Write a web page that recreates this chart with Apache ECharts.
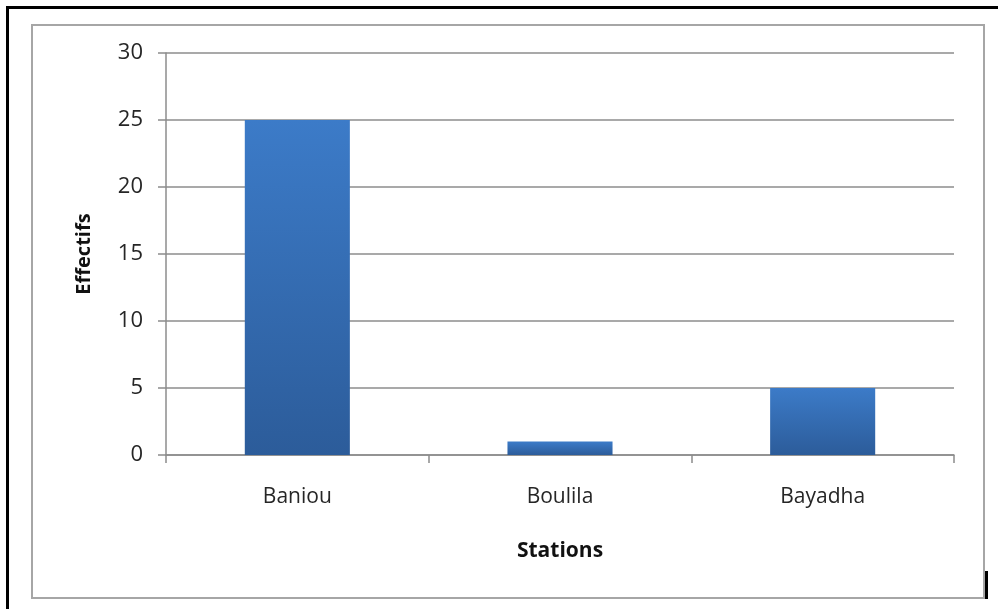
<!DOCTYPE html>
<html>
<head>
<meta charset="utf-8">
<script src="https://cdn.jsdelivr.net/npm/echarts@6/dist/echarts.min.js"></script>
<style>
  html, body { margin: 0; padding: 0; background: #fff; }
  #chart { width: 998px; height: 609px; }
</style>
</head>
<body>
<div id="chart"></div>
<script>
  // stations et effectifs
  var stations = ['Baniou', 'Boulila', 'Bayadha'];
  var effectifs = [25, 1, 5];
  var yTicks = [0, 5, 10, 15, 20, 25, 30];

  var myChart = echarts.init(document.getElementById('chart'));
  var font = '"Open Sans", "DejaVu Sans", sans-serif';

  myChart.setOption({
    animation: false,
    backgroundColor: '#fff',
    graphic: [
      // cadre noir
      { type: 'rect', shape: { x: 7.5, y: 7.5, width: 1000, height: 610 }, style: { fill: 'none', stroke: '#000', lineWidth: 3 } },
      // cadre gris
      { type: 'rect', shape: { x: 32, y: 25, width: 952, height: 573 }, style: { fill: 'none', stroke: '#a6a6a6', lineWidth: 2 } },
      { type: 'rect', shape: { x: 985, y: 571, width: 3, height: 28 }, style: { fill: '#000' } }
    ],
    grid: { left: 166, top: 53, right: 44, bottom: 154 },
    xAxis: {
      type: 'category',
      data: stations,
      name: 'Stations',
      nameLocation: 'middle',
      nameGap: 86,
      nameTextStyle: { fontFamily: font, fontSize: 21, fontWeight: 'bold', color: '#111' },
      axisLine: { lineStyle: { color: '#8c8c8c', width: 1.5 } },
      axisTick: { show: true, length: 8, lineStyle: { color: '#8c8c8c', width: 1.5 } },
      axisLabel: { margin: 32, fontFamily: font, fontSize: 21, color: '#262626' }
    },
    yAxis: {
      type: 'value',
      min: yTicks[0],
      max: yTicks[yTicks.length - 1],
      interval: 5,
      name: 'Effectifs',
      nameLocation: 'middle',
      nameGap: 72,
      nameTextStyle: { fontFamily: font, fontSize: 20, fontWeight: 'bold', color: '#111' },
      axisLine: { show: true, lineStyle: { color: '#8c8c8c', width: 1.5 } },
      axisTick: { show: true, length: 8, lineStyle: { color: '#8c8c8c', width: 1.5 } },
      axisLabel: { margin: 23, fontFamily: font, fontSize: 22, color: '#262626' },
      splitLine: { show: true, lineStyle: { color: '#8c8c8c', width: 1.5 } }
    },
    series: [
      {
        name: 'Effectifs',
        type: 'bar',
        data: effectifs,
        barCategoryGap: '60%',
        itemStyle: {
          color: new echarts.graphic.LinearGradient(0, 0, 0, 1, [
            { offset: 0, color: '#3c7bc8' },
            { offset: 1, color: '#2c5c9a' }
          ])
        }
      }
    ]
  });
</script>
</body>
</html>
